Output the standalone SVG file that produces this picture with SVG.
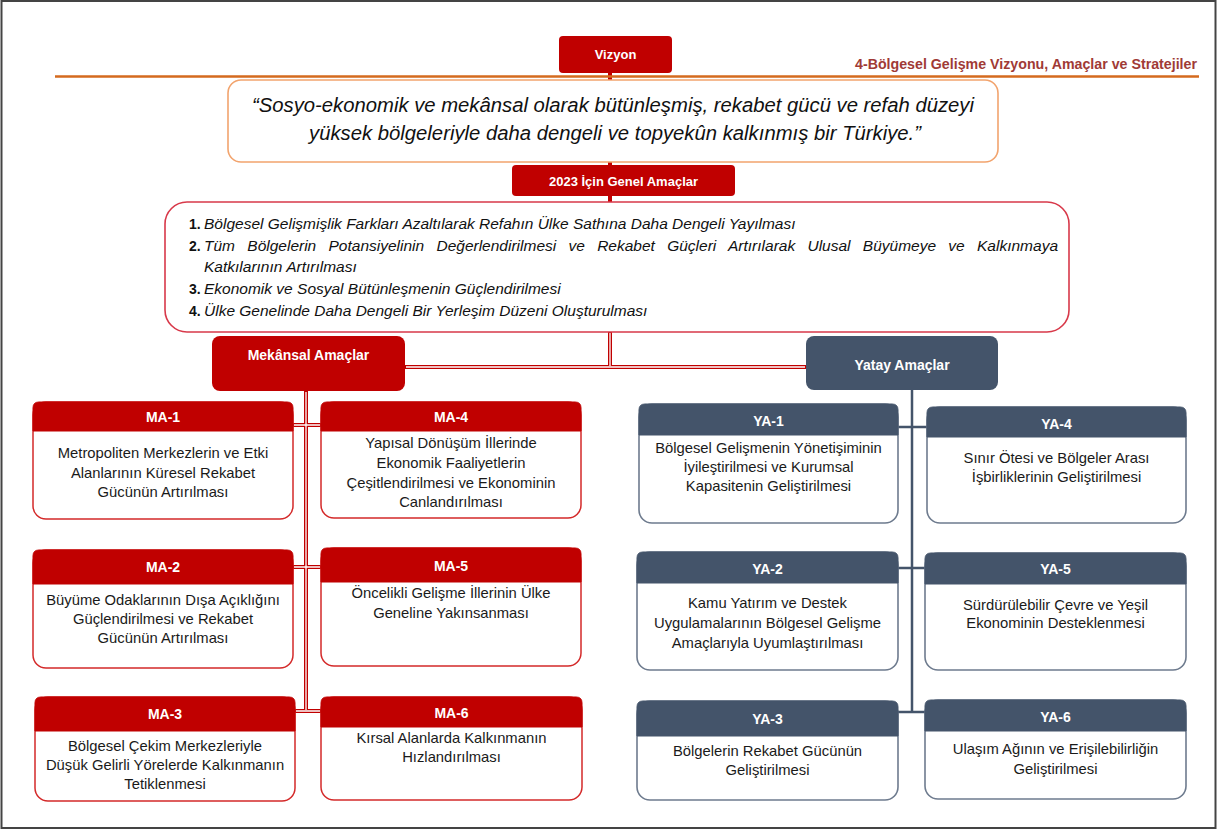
<svg xmlns="http://www.w3.org/2000/svg" width="1218" height="830" viewBox="0 0 1218 830">
<style>
.t{font-family:"Liberation Sans",Arial,sans-serif}
.hd{font-family:"Liberation Sans",Arial,sans-serif;font-weight:bold;fill:#fff;text-anchor:middle}
.bd{font-family:"Liberation Sans",Arial,sans-serif;font-size:14.8px;fill:#1a1a1a;text-anchor:middle}
.rbody{fill:#fff;stroke:#D42A2A;stroke-width:1.5}
.rhead{fill:#C00000;stroke:#C00000;stroke-width:1}
.sbody{fill:#fff;stroke:#6E7B8E;stroke-width:1.6}
.shead{fill:#44546A;stroke:#44546A;stroke-width:1}
.lr{stroke:#C00000;stroke-width:4;fill:none}
.lw{stroke:#fff;stroke-width:1.3;fill:none}
.ls{stroke:#44546A;stroke-width:2.5;fill:none}
.gl{font-family:"Liberation Sans",Arial,sans-serif;font-size:15.5px;font-style:italic;fill:#111}
.gn{font-style:normal;font-weight:bold;font-size:14px}
</style>
<rect x="1.5" y="1" width="1214" height="827" fill="#fff" stroke="#444" stroke-width="2"/>

<g id="connectors">
  <path class="lr" d="M610 72V80M610 162V166M610 196V202M610 331V367M405 367H806M306 391V711M293 425H321M293 567H321M295 711H321"/>
  <path class="lw" d="M610 333V366M406 367H805M306 392V710M294 425H320M294 567H320M296 711H320"/>
  <path class="ls" d="M912 390V712M898 427H927M898 568H925M898 712H925"/>
</g>

<line x1="55" y1="76.5" x2="1199" y2="76.5" stroke="#D46A1E" stroke-width="2.5"/>
<text class="t" x="1197" y="69" font-size="14" font-weight="bold" fill="#A03A36" text-anchor="end" textLength="342" lengthAdjust="spacingAndGlyphs">4-Bölgesel Gelişme Vizyonu, Amaçlar ve Stratejiler</text>

<g id="vizyon">
  <rect x="559" y="36" width="113" height="37" rx="4" fill="#C00000"/>
  <text class="hd" x="615.5" y="59" font-size="13">Vizyon</text>
</g>

<g id="vision">
  <rect x="228" y="80" width="770" height="82" rx="13" fill="#fff" stroke="#F2A46E" stroke-width="1.6"/>
  <text class="t" x="613" y="112" font-size="20" font-style="italic" fill="#111" text-anchor="middle" textLength="722" lengthAdjust="spacingAndGlyphs">“Sosyo-ekonomik ve mekânsal olarak bütünleşmiş, rekabet gücü ve refah düzeyi</text>
  <text class="t" x="615" y="140" font-size="20" font-style="italic" fill="#111" text-anchor="middle" textLength="612" lengthAdjust="spacingAndGlyphs">yüksek bölgeleriyle daha dengeli ve topyekûn kalkınmış bir Türkiye.”</text>
</g>

<g id="genel">
  <rect x="512" y="165" width="223" height="31" rx="4" fill="#C00000"/>
  <text class="hd" x="623.5" y="186" font-size="13">2023 İçin Genel Amaçlar</text>
</g>

<g id="goals">
  <rect x="165" y="202" width="904" height="130" rx="22" fill="#fff" stroke="#D8394A" stroke-width="1.6"/>
  <text class="gl" x="189" y="229"><tspan class="gn">1.</tspan><tspan x="204">Bölgesel Gelişmişlik Farkları Azaltılarak Refahın Ülke Sathına Daha Dengeli Yayılması</tspan></text>
  <text class="gl" y="251"><tspan class="gn" x="189">2.</tspan><tspan x="204" word-spacing="8" textLength="854" lengthAdjust="spacing">Tüm Bölgelerin Potansiyelinin Değerlendirilmesi ve Rekabet Güçleri Artırılarak Ulusal Büyümeye ve Kalkınmaya</tspan></text>
  <text class="gl" x="204" y="272">Katkılarının Artırılması</text>
  <text class="gl" x="189" y="294"><tspan class="gn">3.</tspan><tspan x="204">Ekonomik ve Sosyal Bütünleşmenin Güçlendirilmesi</tspan></text>
  <text class="gl" x="189" y="316"><tspan class="gn">4.</tspan><tspan x="204">Ülke Genelinde Daha Dengeli Bir Yerleşim Düzeni Oluşturulması</tspan></text>
</g>

<g id="mekansal">
  <rect x="212" y="336" width="193" height="55" rx="8" fill="#C00000"/>
  <text class="hd" x="308.5" y="360" font-size="14">Mekânsal Amaçlar</text>
</g>
<g id="yatay">
  <rect x="806" y="336" width="192" height="54" rx="8" fill="#44546A"/>
  <text class="hd" x="902" y="370" font-size="14">Yatay Amaçlar</text>
</g>

<g id="ma1">
  <rect class="rbody" x="33" y="402" width="260" height="117" rx="13"/>
  <path class="rhead" d="M33 431V408Q33 402 39 402H287Q293 402 293 408V431Z"/>
  <text class="hd" x="163" y="421.5" font-size="14">MA-1</text>
  <text class="bd" x="163" y="458">Metropoliten Merkezlerin ve Etki</text>
  <text class="bd" x="163" y="478">Alanlarının Küresel Rekabet</text>
  <text class="bd" x="163" y="497">Gücünün Artırılması</text>
</g>
<g id="ma4">
  <rect class="rbody" x="321" y="402" width="260" height="116" rx="13"/>
  <path class="rhead" d="M321 431V408Q321 402 327 402H575Q581 402 581 408V431Z"/>
  <text class="hd" x="451" y="421.5" font-size="14">MA-4</text>
  <text class="bd" x="451" y="448">Yapısal Dönüşüm İllerinde</text>
  <text class="bd" x="451" y="468">Ekonomik Faaliyetlerin</text>
  <text class="bd" x="451" y="488">Çeşitlendirilmesi ve Ekonominin</text>
  <text class="bd" x="451" y="507">Canlandırılması</text>
</g>
<g id="ma2">
  <rect class="rbody" x="33" y="550" width="260" height="118" rx="13"/>
  <path class="rhead" d="M33 584V556Q33 550 39 550H287Q293 550 293 556V584Z"/>
  <text class="hd" x="163" y="572" font-size="14">MA-2</text>
  <text class="bd" x="163" y="605">Büyüme Odaklarının Dışa Açıklığını</text>
  <text class="bd" x="163" y="624">Güçlendirilmesi ve Rekabet</text>
  <text class="bd" x="163" y="643">Gücünün Artırılması</text>
</g>
<g id="ma5">
  <rect class="rbody" x="321" y="548" width="260" height="118" rx="13"/>
  <path class="rhead" d="M321 582V554Q321 548 327 548H575Q581 548 581 554V582Z"/>
  <text class="hd" x="451" y="571" font-size="14">MA-5</text>
  <text class="bd" x="451" y="598">Öncelikli Gelişme İllerinin Ülke</text>
  <text class="bd" x="451" y="618">Geneline Yakınsanması</text>
</g>
<g id="ma3">
  <rect class="rbody" x="35" y="697" width="260" height="104" rx="13"/>
  <path class="rhead" d="M35 731V703Q35 697 41 697H289Q295 697 295 703V731Z"/>
  <text class="hd" x="165" y="719" font-size="14">MA-3</text>
  <text class="bd" x="165" y="751">Bölgesel Çekim Merkezleriyle</text>
  <text class="bd" x="165" y="770">Düşük Gelirli Yörelerde Kalkınmanın</text>
  <text class="bd" x="165" y="789">Tetiklenmesi</text>
</g>
<g id="ma6">
  <rect class="rbody" x="321" y="697" width="261" height="103" rx="13"/>
  <path class="rhead" d="M321 727V703Q321 697 327 697H576Q582 697 582 703V727Z"/>
  <text class="hd" x="451.5" y="718" font-size="14">MA-6</text>
  <text class="bd" x="451.5" y="743">Kırsal Alanlarda Kalkınmanın</text>
  <text class="bd" x="451.5" y="762">Hızlandırılması</text>
</g>

<g id="ya1">
  <rect class="sbody" x="639" y="404" width="259" height="119" rx="13"/>
  <path class="shead" d="M639 435V410Q639 404 645 404H892Q898 404 898 410V435Z"/>
  <text class="hd" x="768.5" y="426" font-size="14">YA-1</text>
  <text class="bd" x="768.5" y="453">Bölgesel Gelişmenin Yönetişiminin</text>
  <text class="bd" x="768.5" y="472">İyileştirilmesi ve Kurumsal</text>
  <text class="bd" x="768.5" y="491">Kapasitenin Geliştirilmesi</text>
</g>
<g id="ya4">
  <rect class="sbody" x="927" y="407" width="259" height="116" rx="13"/>
  <path class="shead" d="M927 437V413Q927 407 933 407H1180Q1186 407 1186 413V437Z"/>
  <text class="hd" x="1056.5" y="429" font-size="14">YA-4</text>
  <text class="bd" x="1056.5" y="463">Sınır Ötesi ve Bölgeler Arası</text>
  <text class="bd" x="1056.5" y="482">İşbirliklerinin Geliştirilmesi</text>
</g>
<g id="ya2">
  <rect class="sbody" x="637" y="552" width="261" height="118" rx="13"/>
  <path class="shead" d="M637 583V558Q637 552 643 552H892Q898 552 898 558V583Z"/>
  <text class="hd" x="767.5" y="574" font-size="14">YA-2</text>
  <text class="bd" x="767.5" y="608">Kamu Yatırım ve Destek</text>
  <text class="bd" x="767.5" y="628">Uygulamalarının Bölgesel Gelişme</text>
  <text class="bd" x="767.5" y="648">Amaçlarıyla Uyumlaştırılması</text>
</g>
<g id="ya5">
  <rect class="sbody" x="925" y="553" width="261" height="117" rx="13"/>
  <path class="shead" d="M925 584V559Q925 553 931 553H1180Q1186 553 1186 559V584Z"/>
  <text class="hd" x="1055.5" y="574" font-size="14">YA-5</text>
  <text class="bd" x="1055.5" y="610">Sürdürülebilir Çevre ve Yeşil</text>
  <text class="bd" x="1055.5" y="628">Ekonominin Desteklenmesi</text>
</g>
<g id="ya3">
  <rect class="sbody" x="637" y="701" width="261" height="99" rx="13"/>
  <path class="shead" d="M637 736V707Q637 701 643 701H892Q898 701 898 707V736Z"/>
  <text class="hd" x="767.5" y="724" font-size="14">YA-3</text>
  <text class="bd" x="767.5" y="756">Bölgelerin Rekabet Gücünün</text>
  <text class="bd" x="767.5" y="775">Geliştirilmesi</text>
</g>
<g id="ya6">
  <rect class="sbody" x="925" y="700" width="261" height="99" rx="13"/>
  <path class="shead" d="M925 731V706Q925 700 931 700H1180Q1186 700 1186 706V731Z"/>
  <text class="hd" x="1055.5" y="722" font-size="14">YA-6</text>
  <text class="bd" x="1055.5" y="754">Ulaşım Ağının ve Erişilebilirliğin</text>
  <text class="bd" x="1055.5" y="774">Geliştirilmesi</text>
</g>
</svg>
